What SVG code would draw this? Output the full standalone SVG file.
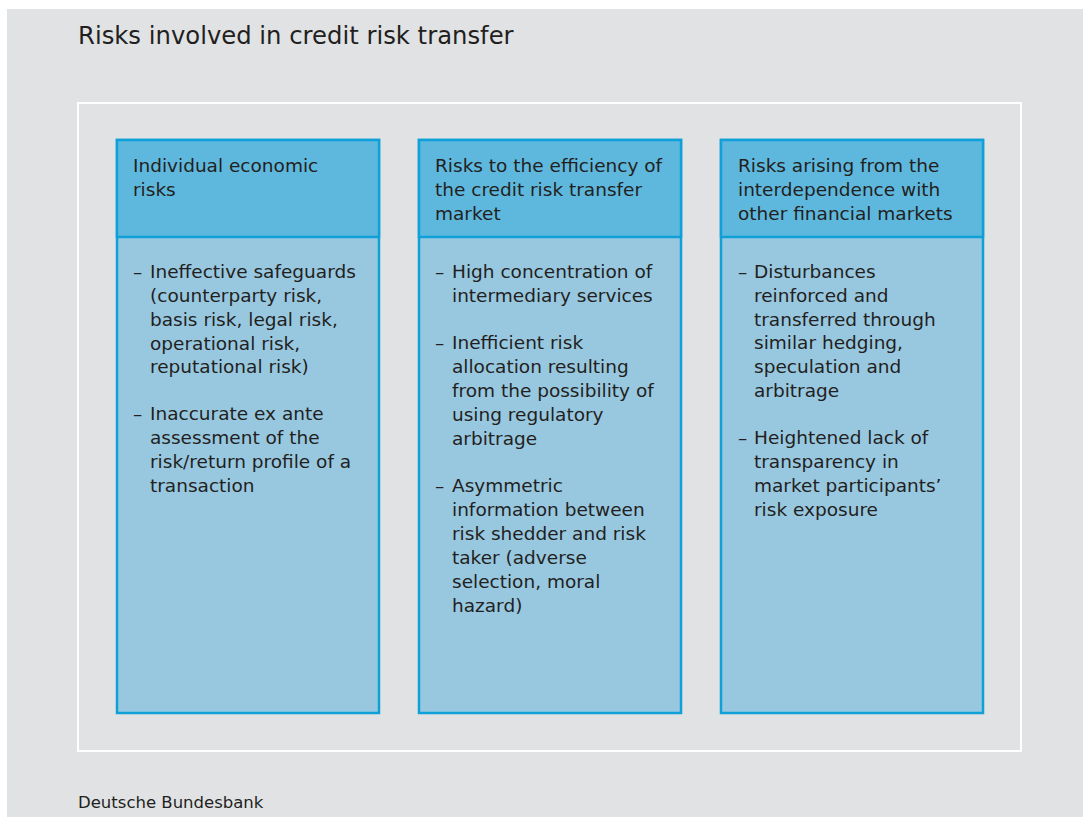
<svg xmlns="http://www.w3.org/2000/svg" width="1083" height="817" viewBox="0 0 1083 817">
<style>
.t{font-family:"DejaVu Sans","Open Sans",sans-serif;fill:#231f20}
.h{font-size:18.5px}
.b{font-size:18.5px}
.box{stroke:#10a0d8;stroke-width:2.5}
.hd{fill:#5eb8de}
.bd{fill:#98c8e0}
</style>
<rect x="0" y="0" width="1083" height="817" fill="#ffffff"/>
<rect x="7" y="9" width="1076" height="808" fill="#e1e2e4"/>
<text class="t" x="78" y="44" font-size="24.3">Risks involved in credit risk transfer</text>
<rect x="78" y="103" width="943" height="648" fill="none" stroke="#ffffff" stroke-width="2"/>
<g id="box1">
<rect class="bd box" x="117" y="140" width="262" height="573"/>
<rect class="hd box" x="117" y="140" width="262" height="97"/>
<text class="t h" x="133" y="172">Individual economic</text>
<text class="t h" x="133" y="196">risks</text>
<text class="t b"><tspan x="133" y="278">–</tspan><tspan x="150" y="278">Ineffective safeguards</tspan><tspan x="150" y="302">(counterparty risk,</tspan><tspan x="150" y="326">basis risk, legal risk,</tspan><tspan x="150" y="350">operational risk,</tspan><tspan x="150" y="373">reputational risk)</tspan><tspan x="133" y="420">–</tspan><tspan x="150" y="420">Inaccurate ex ante</tspan><tspan x="150" y="444">assessment of the</tspan><tspan x="150" y="468">risk/return profile of a</tspan><tspan x="150" y="492">transaction</tspan></text>
</g>
<g id="box2">
<rect class="bd box" x="419" y="140" width="262" height="573"/>
<rect class="hd box" x="419" y="140" width="262" height="97"/>
<text class="t h" x="435" y="172">Risks to the efficiency of</text>
<text class="t h" x="435" y="196">the credit risk transfer</text>
<text class="t h" x="435" y="220">market</text>
<text class="t b"><tspan x="435" y="278">–</tspan><tspan x="452" y="278">High concentration of</tspan><tspan x="452" y="302">intermediary services</tspan><tspan x="435" y="349">–</tspan><tspan x="452" y="349">Inefficient risk</tspan><tspan x="452" y="373">allocation resulting</tspan><tspan x="452" y="397">from the possibility of</tspan><tspan x="452" y="421">using regulatory</tspan><tspan x="452" y="445">arbitrage</tspan><tspan x="435" y="492">–</tspan><tspan x="452" y="492">Asymmetric</tspan><tspan x="452" y="516">information between</tspan><tspan x="452" y="540">risk shedder and risk</tspan><tspan x="452" y="564">taker (adverse</tspan><tspan x="452" y="588">selection, moral</tspan><tspan x="452" y="612">hazard)</tspan></text>
</g>
<g id="box3">
<rect class="bd box" x="721" y="140" width="262" height="573"/>
<rect class="hd box" x="721" y="140" width="262" height="97"/>
<text class="t h" x="738" y="172">Risks arising from the</text>
<text class="t h" x="738" y="196">interdependence with</text>
<text class="t h" x="738" y="220">other financial markets</text>
<text class="t b"><tspan x="738" y="278">–</tspan><tspan x="754" y="278">Disturbances</tspan><tspan x="754" y="302">reinforced and</tspan><tspan x="754" y="326">transferred through</tspan><tspan x="754" y="349">similar hedging,</tspan><tspan x="754" y="373">speculation and</tspan><tspan x="754" y="397">arbitrage</tspan><tspan x="738" y="444">–</tspan><tspan x="754" y="444">Heightened lack of</tspan><tspan x="754" y="468">transparency in</tspan><tspan x="754" y="492">market participants’</tspan><tspan x="754" y="516">risk exposure</tspan></text>
</g>
<g id="connectors"></g>
<text class="t" x="78" y="808" font-size="16.5">Deutsche Bundesbank</text>
</svg>
